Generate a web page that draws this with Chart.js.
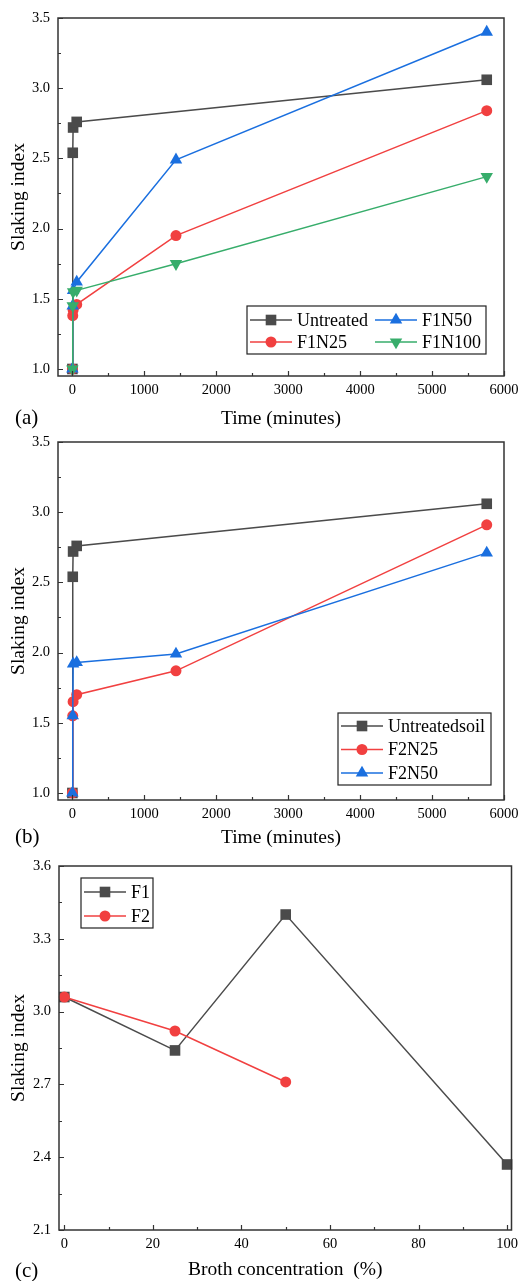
<!DOCTYPE html>
<html>
<head>
<meta charset="utf-8">
<script src="https://cdn.jsdelivr.net/npm/chart.js@4.4.1/dist/chart.umd.min.js"></script>
<style>
  body { margin: 0; background: #fff; width: 519px; height: 1281px; position: relative; overflow: hidden; font-family: "Liberation Serif", "Times New Roman", serif; }
  canvas { position: absolute; left: 0; }
  .tag { position: absolute; left: 15px; font-size: 21px; line-height: 22px; color: #000; }
</style>
</head>
<body>
<canvas id="chartA" width="519" height="431" style="top:0px"></canvas>
<canvas id="chartB" width="519" height="422" style="top:428px"></canvas>
<canvas id="chartC" width="519" height="432" style="top:850px"></canvas>
<div class="tag" style="top:406px">(a)</div>
<div class="tag" style="top:825px">(b)</div>
<div class="tag" style="top:1259px">(c)</div>
<script>
// sampling times (minutes)
const timeUntreated = [0, 5, 10, 60, 5760];
const timeTreated = [0, 5, 10, 60, 1440, 5760];

// slaking index, panel (a)
const siUntreated = [1.0, 2.54, 2.72, 2.76, 3.06];
const siF1N25 = [1.0, 1.38, 1.42, 1.46, 1.95, 2.84];
const siF1N50 = [1.0, 1.45, 1.56, 1.62, 2.49, 3.40];
const siF1N100 = [1.0, 1.45, 1.55, 1.56, 1.75, 2.37];

// panel (b)
const siF2N25 = [1.0, 1.55, 1.65, 1.70, 1.87, 2.91];
const siF2N50 = [1.0, 1.55, 1.92, 1.93, 1.99, 2.71];

// panel (c)
const brothConc = [0, 25, 50, 100];
const siF1 = [3.06, 2.84, 3.40, 2.37];
const siF2 = [3.06, 2.92, 2.71];

const GRAY = "#4b4b4b";
const RED = "#f14040";
const BLUE = "#1a6fdf";
const GREEN = "#37ad6b";

Chart.defaults.font.family = "'Liberation Serif', 'Times New Roman', serif";
Chart.defaults.color = "#000";

const tickFont = { size: 14.5 };
const titleFont = { size: 19.5 };

function series(label, xs, ys, color, style, i) {
  const radius = style === "rect" ? 7.5 : style === "circle" ? 5.5 : 7.2;
  return {
    label: label,
    data: ys.map((y, k) => ({ x: xs[k], y: y })),
    showLine: true,
    borderColor: color,
    backgroundColor: color,
    borderWidth: 1.5,
    pointStyle: style === "down" ? "triangle" : style,
    pointRotation: style === "down" ? 180 : 0,
    pointRadius: radius,
    pointHoverRadius: radius,
    pointBorderWidth: 0,
    pointBackgroundColor: color,
    order: -i,
    clip: false,
  };
}

function stepTicks(from, to, step) {
  const out = [];
  for (let k = 0; from + k * step <= to + 1e-9; k++) {
    out.push({ value: Math.round((from + k * step) * 1000) / 1000 });
  }
  return out;
}

function inwardTicks(ctx, scale, area, minor) {
  const majors = scale.ticks.map((t) => t.value);
  const marks = majors.map((v) => [v, 5]);
  for (let k = 0; ; k++) {
    const v = majors[0] - minor + 2 * minor * k;
    if (v > scale.max + 1e-9) break;
    if (v >= scale.min - 1e-9) marks.push([v, 3]);
  }
  ctx.beginPath();
  marks.forEach(([v, len]) => {
    const p = Math.round(scale.getPixelForValue(v)) + 0.5;
    if (scale.isHorizontal()) {
      ctx.moveTo(p, area.bottom);
      ctx.lineTo(p, area.bottom - len);
    } else {
      ctx.moveTo(area.left, p);
      ctx.lineTo(area.left + len, p);
    }
  });
  ctx.stroke();
}

const axesFrame = {
  id: "axesFrame",
  afterDatasetsDraw(chart, args, opts) {
    const { ctx, chartArea: a, scales } = chart;
    ctx.save();
    ctx.strokeStyle = "#333";
    ctx.lineWidth = 1.5;
    ctx.strokeRect(a.left, a.top, a.right - a.left, a.bottom - a.top);
    ctx.lineWidth = 1.2;
    inwardTicks(ctx, scales.x, a, opts.xMinor);
    inwardTicks(ctx, scales.y, a, opts.yMinor);
    ctx.restore();
  },
};

const insideLegend = {
  id: "insideLegend",
  afterDraw(chart, args, opts) {
    const ctx = chart.ctx;
    ctx.save();
    ctx.fillStyle = "#fff";
    ctx.fillRect(opts.left, opts.top, opts.width, opts.height);
    ctx.strokeStyle = "#222";
    ctx.lineWidth = 1.2;
    ctx.strokeRect(opts.left, opts.top, opts.width, opts.height);
    ctx.font = "18px 'Liberation Serif', 'Times New Roman', serif";
    ctx.textBaseline = "middle";
    chart.data.datasets.forEach((ds, i) => {
      const col = Math.floor(i / opts.rows);
      const row = i % opts.rows;
      const x0 = opts.left + col * opts.colGap;
      const y = opts.top + opts.firstRow + row * opts.rowGap;
      ctx.strokeStyle = ds.borderColor;
      ctx.lineWidth = 1.5;
      ctx.beginPath();
      ctx.moveTo(x0 + 3, y);
      ctx.lineTo(x0 + 45, y);
      ctx.stroke();
      ctx.fillStyle = ds.pointBackgroundColor;
      Chart.helpers.drawPoint(ctx, {
        pointStyle: ds.pointStyle,
        rotation: ds.pointRotation,
        radius: ds.pointRadius,
        borderWidth: 0,
      }, x0 + 24, y);
      ctx.fillStyle = "#000";
      ctx.fillText(ds.label, x0 + 50, y + 1);
    });
    ctx.restore();
  },
};

function makeChart(id, p) {
  return new Chart(document.getElementById(id), {
    type: "scatter",
    data: { datasets: p.datasets },
    options: {
      responsive: false,
      animation: false,
      events: [],
      layout: { padding: { top: p.top, right: p.right, left: 0, bottom: 0 } },
      scales: {
        x: {
          type: "linear",
          min: p.xMin,
          max: p.xMax,
          grid: { display: false, drawTicks: false },
          border: { display: false },
          ticks: { padding: 5, font: tickFont, maxRotation: 0, autoSkip: false, callback: (v) => String(v) },
          afterBuildTicks: (s) => {
            s.ticks = stepTicks(Math.ceil(p.xMin / p.xStep) * p.xStep, p.xMax, p.xStep);
          },
          afterFit: (s) => {
            s.height = p.xAxisHeight;
            s.paddingLeft = 0;
            s.paddingRight = 0;
          },
          title: { display: true, text: p.xTitle, font: titleFont, padding: { top: 0, bottom: 0 } },
        },
        y: {
          min: p.yMin,
          max: p.yMax,
          grid: { display: false, drawTicks: false },
          border: { display: false },
          ticks: { padding: 8, font: tickFont, autoSkip: false, callback: (v) => v.toFixed(1) },
          afterBuildTicks: (s) => {
            s.ticks = stepTicks(p.yFirst, p.yMax, p.yStep);
          },
          afterFit: (s) => {
            s.width = p.left;
            s.paddingTop = 0;
            s.paddingBottom = 0;
          },
          title: { display: true, text: "Slaking index", font: titleFont, padding: { top: 7, bottom: 0 } },
        },
      },
      plugins: {
        legend: { display: false },
        tooltip: { enabled: false },
        axesFrame: { xMinor: p.xMinor, yMinor: p.yMinor },
        insideLegend: p.legend,
      },
    },
    plugins: [axesFrame, insideLegend],
  });
}

makeChart("chartA", {
  datasets: [
    series("Untreated", timeUntreated, siUntreated, GRAY, "rect", 0),
    series("F1N25", timeTreated, siF1N25, RED, "circle", 1),
    series("F1N50", timeTreated, siF1N50, BLUE, "triangle", 2),
    series("F1N100", timeTreated, siF1N100, GREEN, "down", 3),
  ],
  top: 18, right: 15, left: 58, xAxisHeight: 55,
  xMin: -200, xMax: 6000, xStep: 1000, xMinor: 500,
  yMin: 0.95, yMax: 3.5, yStep: 0.5, yFirst: 1.0, yMinor: 0.25,
  xTitle: "Time (minutes)",
  legend: { left: 247, top: 306, width: 239, height: 48, rows: 2, colGap: 125, firstRow: 14, rowGap: 22 },
});

makeChart("chartB", {
  datasets: [
    series("Untreatedsoil", timeUntreated, siUntreated, GRAY, "rect", 0),
    series("F2N25", timeTreated, siF2N25, RED, "circle", 1),
    series("F2N50", timeTreated, siF2N50, BLUE, "triangle", 2),
  ],
  top: 14, right: 15, left: 58, xAxisHeight: 50,
  xMin: -200, xMax: 6000, xStep: 1000, xMinor: 500,
  yMin: 0.95, yMax: 3.5, yStep: 0.5, yFirst: 1.0, yMinor: 0.25,
  xTitle: "Time (minutes)",
  legend: { left: 338, top: 285, width: 153, height: 72, rows: 3, colGap: 0, firstRow: 13, rowGap: 23.5 },
});

makeChart("chartC", {
  datasets: [
    series("F1", brothConc, siF1, GRAY, "rect", 0),
    series("F2", brothConc, siF2, RED, "circle", 1),
  ],
  top: 16, right: 7, left: 59, xAxisHeight: 52,
  xMin: -1.2, xMax: 101, xStep: 20, xMinor: 10,
  yMin: 2.1, yMax: 3.6, yStep: 0.3, yFirst: 2.1, yMinor: 0.15,
  xTitle: "Broth concentration  (%)",
  legend: { left: 81, top: 28, width: 72, height: 50, rows: 2, colGap: 0, firstRow: 14, rowGap: 24 },
});
</script>
</body>
</html>
